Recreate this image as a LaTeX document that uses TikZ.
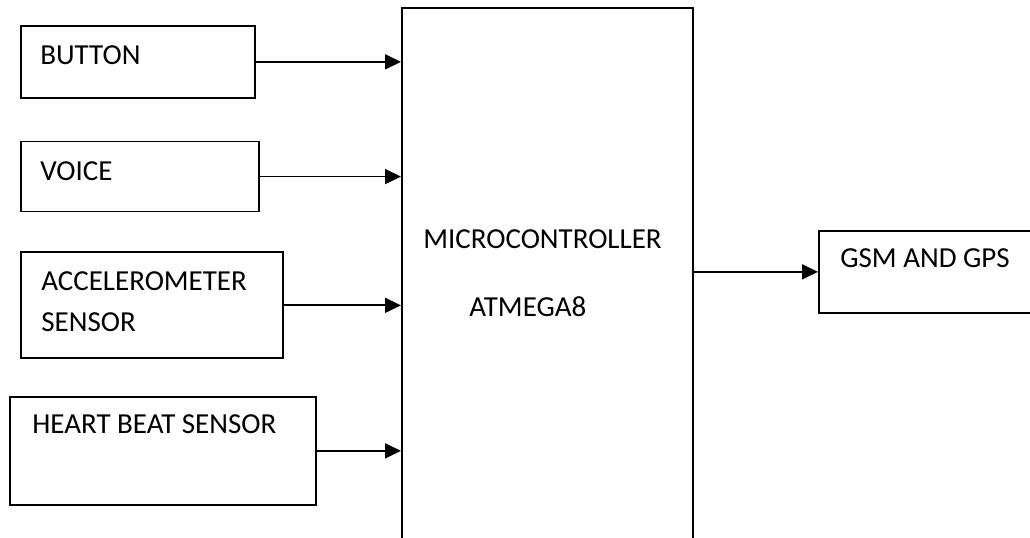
\documentclass[tikz,border=0pt]{standalone}
\usepackage{fontspec}
\setmainfont{Carlito}
\usetikzlibrary{arrows.meta, positioning}

\begin{document}
\begin{tikzpicture}[
    x=0.02cm, y=-0.02cm,
    node distance=0.84cm,
    blk/.style={draw, line width=1pt, inner sep=0pt, minimum width=#1},
    lbl/.style={anchor=base west, inner sep=0pt, font=\fontsize{16.5}{20}\selectfont},
    arrow/.style={-{Triangle[length=0.32cm, width=0.3cm]}, line width=1pt}
]
    \useasboundingbox (0,0) rectangle (1030,537);
    \clip (0,0) rectangle (1030,537);

    % inputs
    \node[blk=4.68cm, minimum height=1.44cm, anchor=north west] (button) at (20,25) {};
    \node[blk=4.76cm, minimum height=1.40cm, below=of button.south west, anchor=north west] (voice) {};
    \node[blk=5.24cm, minimum height=2.12cm, below=0.78cm of voice.south west, anchor=north west] (accel) {};
    \node[blk=6.12cm, minimum height=2.16cm, anchor=north west] (heart) at (9,396) {};

    % controller and output
    \node[blk=5.82cm, minimum height=10.9cm, anchor=north west] (mcu) at (401,7) {};
    \node[blk=4.44cm, minimum height=1.64cm, anchor=north west] (gsm) at (818,230) {};

    % texts
    \node[lbl] (button-t) at ([xshift=0.4cm, yshift=-0.8cm]button.north west) {BUTTON};
    \node[lbl] (voice-t) at ([xshift=0.4cm, yshift=-0.8cm]voice.north west) {VOICE};
    \node[lbl] (accel-t) at ([xshift=0.42cm, yshift=-0.78cm]accel.north west) {ACCELEROMETER};
    \node[lbl] (accel-t2) at ([yshift=-0.82cm]accel-t.base west) {SENSOR};
    \node[lbl] (heart-t) at ([xshift=0.46cm, yshift=-0.76cm]heart.north west) {HEART BEAT SENSOR};
    \node[lbl] (mcu-t) at ([xshift=0.44cm, yshift=-4.84cm]mcu.north west) {MICROCONTROLLER};
    \node[lbl] (mcu-t2) at ([xshift=0.92cm, yshift=-1.36cm]mcu-t.base west) {ATMEGA8};
    \node[lbl] (gsm-t) at ([xshift=0.44cm, yshift=-0.76cm]gsm.north west) {GSM AND GPS};

    % connections
    \draw[arrow] (button.east) -- (mcu.west |- button.east);
    \draw[arrow] (voice.east) -- (mcu.west |- voice.east);
    \draw[arrow] (accel.east) -- (mcu.west |- accel.east);
    \draw[arrow] (heart.east) -- (mcu.west |- heart.east);
    \draw[arrow] (mcu.east |- gsm.west) -- (gsm.west);
\end{tikzpicture}
\end{document}
